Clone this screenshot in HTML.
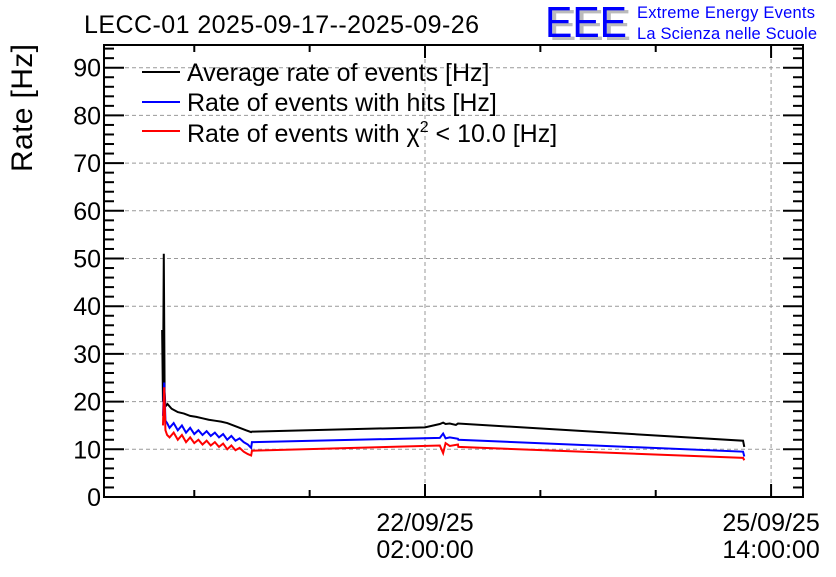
<!DOCTYPE html>
<html><head><meta charset="utf-8"><style>
body{margin:0;background:#fff;}
svg text{font-family:"Liberation Sans",sans-serif;}
</style></head><body>
<svg id="c" width="836" height="572" xmlns="http://www.w3.org/2000/svg">
<rect width="836" height="572" fill="#fff"/>
<text x="84" y="33" font-size="25" textLength="395">LECC-01 2025-09-17--2025-09-26</text>
<text x="549" y="40" font-size="44" fill="#bbb" textLength="82" lengthAdjust="spacingAndGlyphs">EEE</text>
<text x="545" y="37" font-size="44" fill="#0000ff" textLength="82" lengthAdjust="spacingAndGlyphs">EEE</text>
<text x="637" y="18" font-size="16.5" fill="#0000ff" textLength="178">Extreme Energy Events</text>
<text x="637" y="39" font-size="16.5" fill="#0000ff" textLength="180">La Scienza nelle Scuole</text>
<text transform="translate(32,108) rotate(-90)" font-size="30" text-anchor="middle" textLength="128">Rate [Hz]</text>
<g id="grid"></g><g id="axes"></g><g id="series"></g>
<g>
<line x1="142" y1="72" x2="180" y2="72" stroke="#000" stroke-width="2"/>
<text x="187" y="81" font-size="25">Average rate of events [Hz]</text>
<line x1="142" y1="102" x2="180" y2="102" stroke="#00f" stroke-width="2"/>
<text x="187" y="111" font-size="25">Rate of events with hits [Hz]</text>
<line x1="142" y1="131" x2="180" y2="131" stroke="#f00" stroke-width="2"/>
<text x="187" y="142" font-size="25">Rate of events with χ<tspan font-size="16" dy="-10">2</tspan><tspan dy="10"> &lt; 10.0 [Hz]</tspan></text>
</g>
</svg>
<script>
const yTicks=[0,10,20,30,40,50,60,70,80,90];
const xTickHours=[0,84];
const xTickLabels=[["22/09/25","02:00:00"],["25/09/25","14:00:00"]];
const blackT=[-63.8,-63.6,-63.4,-63.2,-63.0,-62.5,-61.5,-60,-58.5,-57,-55.5,-54,-52.5,-51,-49.5,-48,-46.5,-45,-43.5,-42.2,-42,0,3.6,4.4,5,6,7.5,8,77.2,77.5];
const blackV=[35,20,51,22,19,19.5,18.5,17.8,17.5,17,16.8,16.5,16.2,16,15.8,15.5,15,14.5,14,13.6,13.7,14.6,15.3,15.6,15.3,15.4,15.1,15.4,11.8,10.5];
const colorT=[-63.6,-63.3,-63,-62.6,-62,-61,-60,-59,-58,-57,-56,-55,-54,-53,-52,-51,-50,-49,-48,-47,-46,-45,-44,-43,-42.2,-42,3.6,4.4,5,6,8,8.1,77.2,77.5];
const blueV=[17,24,16,15.5,14.5,15.5,14,15,13.5,14.5,13.2,14,13,13.8,12.8,13.5,12.5,13.2,12,12.8,11.8,12.3,11.5,11,10.3,11.5,12.4,13.3,12.3,12.5,12.2,12.0,9.5,8.5];
const redV=[15,23,14,13,12.5,13.5,12,13,11.5,12.5,11.3,12,11,11.8,10.8,11.5,10.5,11.2,10,10.8,9.8,10.3,9.5,9,8.7,9.7,10.8,9.2,11.3,10.7,11,10.5,8.2,7.7];

const L=104,R=803,T=45,B=497;
const xs=h=>425+h*4.12;
const ys=v=>B-v*4.77;
const NS="http://www.w3.org/2000/svg";
function mk(tag,attrs,parent){const e=document.createElementNS(NS,tag);for(const k in attrs)e.setAttribute(k,attrs[k]);parent.appendChild(e);return e;}
const grid=document.getElementById('grid'),axes=document.getElementById('axes'),ser=document.getElementById('series');
yTicks.forEach(v=>{
  if(v>0){const g=mk('line',{x1:L,x2:R,y1:ys(v),y2:ys(v),stroke:'#999','stroke-dasharray':'4,3','stroke-width':1},grid);
  
  }
  const t=mk('text',{x:L-3,y:ys(v)+9,'font-size':25,'text-anchor':'end'},axes);t.textContent=v;
  
  
  mk('line',{x1:L,x2:L+20,y1:ys(v),y2:ys(v),stroke:'#000','stroke-width':2},axes);
  mk('line',{x1:R,x2:R-20,y1:ys(v),y2:ys(v),stroke:'#000','stroke-width':2},axes);
});
for(let v=2;v<=94;v+=2){if(v%10===0)continue;const y=ys(v);if(y<T)break;
  mk('line',{x1:L,x2:L+10,y1:y,y2:y,stroke:'#000','stroke-width':2},axes);
  mk('line',{x1:R,x2:R-10,y1:y,y2:y,stroke:'#000','stroke-width':2},axes);}
xTickHours.forEach((h,i)=>{const x=xs(h);
  const g=mk('line',{x1:x,x2:x,y1:T,y2:B,stroke:'#999','stroke-dasharray':'4,3','stroke-width':1},grid);
  
  
  mk('line',{x1:x,x2:x,y1:B,y2:B-13,stroke:'#000','stroke-width':2},axes);
  mk('line',{x1:x,x2:x,y1:T,y2:T+13,stroke:'#000','stroke-width':2},axes);
  const t1=mk('text',{x:x,y:531,'font-size':25,'text-anchor':'middle'},axes);t1.textContent=xTickLabels[i][0];
  
  
  const t2=mk('text',{x:x,y:558,'font-size':25,'text-anchor':'middle'},axes);t2.textContent=xTickLabels[i][1];
  
  });
for(let h=-56;h<=112;h+=28){if(h%84===0)continue;const x=xs(h);if(x<L||x>R)continue;
  mk('line',{x1:x,x2:x,y1:B,y2:B-7,stroke:'#000','stroke-width':2},axes);
  mk('line',{x1:x,x2:x,y1:T,y2:T+7,stroke:'#000','stroke-width':2},axes);}
const fr=mk('rect',{x:L,y:T,width:R-L,height:B-T,fill:'none',stroke:'#000','stroke-width':2},axes);


function line(T_,V,col,name){const p=mk('polyline',{points:T_.map((t,i)=>xs(t)+','+ys(V[i])).join(' '),fill:'none',stroke:col,'stroke-width':2},ser);
  
  }
line(blackT,blackV,'#000','series-average-rate');
line(colorT,blueV,'#00f','series-hits-rate');
line(colorT,redV,'#f00','series-chi2-rate');
</script>
</body></html>
